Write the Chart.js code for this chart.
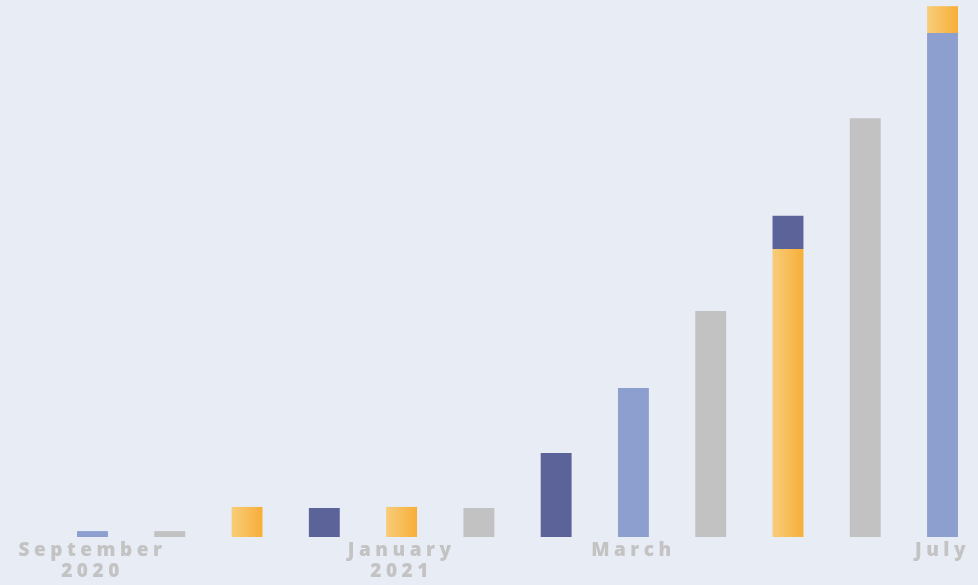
<!DOCTYPE html>
<html>
<head>
<meta charset="utf-8">
<script src="https://cdn.jsdelivr.net/npm/chart.js@4.4.1/dist/chart.umd.min.js"></script>
<style>
  html, body { margin: 0; padding: 0; background: #e8ecf4; overflow: hidden; }
  #wrap { width: 978px; height: 585px; position: relative; }
</style>
</head>
<body>
<div id="wrap"><canvas id="myChart"></canvas></div>
<script>
// one entry per bar, left to right
const categories = [0, 1, 2, 3, 4, 5, 6, 7, 8, 9, 10, 11];
const tickIndex = [0, 4, 7, 11];
const tickLabels = [["September", "2020"], ["January", "2021"], "March", "July"];

// stacked segments, bottom to top
const lightBlue = [2.2, null, null, null, null, null, null, 55.5, null, null, null, 187.7];
const grey = [null, 2.2, null, null, null, 10.8, null, null, 84.2, null, 156, null];
const orange = [null, null, 11.2, null, 11.2, null, null, null, null, 107.3, null, 10];
const darkBlue = [null, null, null, 10.8, null, null, 31.3, null, null, 12.3, null, null];

function toPoints(series) {
  return categories
    .map((c, i) => ({ x: c, y: series[i] }))
    .filter((p) => p.y !== null);
}

function orangeGradient(context) {
  const chart = context.chart;
  if (context.type !== "data" || !chart.scales.x) return "#f7b444";
  const cx = chart.scales.x.getPixelForValue(context.raw.x);
  if (!isFinite(cx)) return "#f7b444";
  const g = chart.ctx.createLinearGradient(cx - 16, 0, cx + 16, 0);
  g.addColorStop(0, "#f8cd7b");
  g.addColorStop(1, "#f7ae36");
  return g;
}

const spacingPlugin = {
  id: "spacing",
  beforeInit(chart) {
    chart.ctx.letterSpacing = "4.5px";
  },
  beforeDraw(chart) {
    chart.ctx.letterSpacing = "4.5px";
  },
};

const ctx = document.getElementById("myChart").getContext("2d");
const myChart = new Chart(ctx, {
  type: "bar",
  data: {
    datasets: [
      { label: "lightBlue", data: toPoints(lightBlue), backgroundColor: "#8d9fcf" },
      { label: "grey", data: toPoints(grey), backgroundColor: "#c2c2c2" },
      { label: "orange", data: toPoints(orange), backgroundColor: orangeGradient },
      { label: "darkBlue", data: toPoints(darkBlue), backgroundColor: "#5b6399" },
    ],
  },
  options: {
    responsive: true,
    maintainAspectRatio: false,
    animation: false,
    layout: { padding: 0 },
    datasets: {
      bar: {
        barPercentage: 0.5,
        categoryPercentage: 0.8,
        borderWidth: 0,
        clip: false,
      },
    },
    plugins: {
      legend: { display: false },
      tooltip: { enabled: false },
    },
    scales: {
      x: {
        type: "linear",
        offset: false,
        stacked: true,
        min: -1.197,
        max: 11.459,
        grid: { display: false, drawTicks: false, offset: false },
        border: { display: false },
        afterBuildTicks: (scale) => {
          scale.ticks = tickIndex.map((v) => ({ value: v }));
        },
        afterFit: (scale) => {
          scale.height = 48;
          scale.paddingLeft = 0;
          scale.paddingRight = 0;
        },
        ticks: {
          autoSkip: false,
          maxRotation: 0,
          padding: 3,
          color: "#c3c3c3",
          font: { family: "Open Sans", size: 19, weight: 800, lineHeight: 1.1 },
          callback: (value, index) => tickLabels[index],
        },
      },
      y: {
        display: false,
        stacked: true,
        min: 0,
        max: 200,
      },
    },
  },
  plugins: [spacingPlugin],
});
</script>
</body>
</html>
